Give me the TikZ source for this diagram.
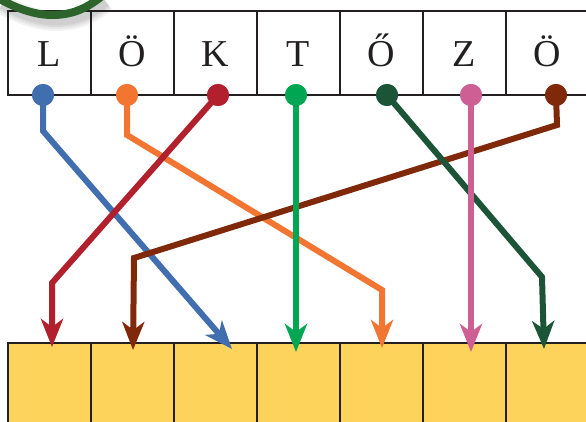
\documentclass[tikz,border=0pt]{standalone}
\usepackage{fontspec}
\setmainfont{Liberation Serif}
\usetikzlibrary{arrows.meta,calc}
\definecolor{cblue}{RGB}{65,110,175}
\definecolor{corange}{RGB}{242,118,50}
\definecolor{cred}{RGB}{178,31,45}
\definecolor{cgreen}{RGB}{0,166,81}
\definecolor{cdkgreen}{RGB}{28,84,56}
\definecolor{cpink}{RGB}{205,95,148}
\definecolor{cbrown}{RGB}{128,40,10}
\definecolor{cyellow}{RGB}{253,211,92}
\definecolor{cswirl}{RGB}{44,100,44}
\definecolor{cline}{RGB}{35,31,32}
\tikzset{
  cell/.style={draw=cline, line width=2.2pt, minimum width=83pt, minimum height=84pt, inner sep=0pt, outer sep=0pt, anchor=north west},
  topcell/.style={cell, font=\fontsize{38}{38}\selectfont, text height=28pt, text depth=0pt, text=cline},
  botcell/.style={cell, fill=cyellow},
  dot/.style={circle, fill=#1, minimum size=22pt, inner sep=0pt},
  conn/.style={draw=#1, line width=6pt, -{Stealth[length=28pt,width=22pt,inset=8pt]}}
}
\begin{document}
\begin{tikzpicture}[x=1pt,y=-1pt]
\useasboundingbox (0,0) rectangle (586,422);
\clip (0,0) rectangle (586,422);
% shadow of swirl
\foreach \w in {20,16,12,9}{
  \draw[line width=\w pt, black, opacity=0.05]
    (2,4) .. controls (19,14) and (39,21) .. (56,21) .. controls (74,21) and (89,16) .. (106,2);
}
% top cells
\foreach \t [count=\i] in {L,Ö,K,T,Ő,Z,Ö}{
  \node[topcell] (t\i) at ({8+83*(\i-1)},11) {\t};
}
% bottom cells
\foreach \i in {1,...,7}{
  \node[botcell] (b\i) at ({8+83*(\i-1)},343) {};
}
% swirl
\draw[cswirl, line width=8pt]
  (-2,-2) .. controls (15,8) and (35,15) .. (52,15) .. controls (70,15) and (85,10) .. (102,-4);
% dots
\node[dot=cblue] (p1) at (43,95) {};
\node[dot=corange] (p2) at (127,95) {};
\node[dot=cred] (p3) at (218,95) {};
\node[dot=cgreen] (p4) at (296,95) {};
\node[dot=cdkgreen] (p5) at (387,95) {};
\node[dot=cpink] (p6) at (471,95) {};
\node[dot=cbrown] (p7) at (556,95) {};
% connectors
\draw[conn=cblue] (p1.center) -- (43,131) -- ([xshift=16.5pt,yshift=-6pt]b3.north);
\draw[conn=corange] (p2.center) -- (127,135) -- (382,290) -- ([xshift=0.5pt,yshift=-5pt]b5.north);
\draw[conn=cred] (p3.center) -- (52,283) -- ([xshift=2.5pt,yshift=-4pt]b1.north);
\draw[conn=cbrown] (p7.center) -- (557,125) -- (134,258) -- ([xshift=0.5pt,yshift=-7pt]b2.north);
\draw[conn=cdkgreen] (p5.center) -- (542,277) -- ([xshift=-3.5pt,yshift=-6pt]b7.north);
\draw[conn=cgreen] (p4.center) -- ([xshift=-2.5pt,yshift=-9pt]b4.north);
\draw[conn=cpink] (p6.center) -- ([xshift=6.5pt,yshift=-9pt]b6.north);
% redraw dots on top
\foreach \c/\n in {cblue/1,corange/2,cred/3,cgreen/4,cdkgreen/5,cpink/6,cbrown/7}{
  \fill[\c] (p\n.center) circle (11pt);
}
\end{tikzpicture}
\end{document}
